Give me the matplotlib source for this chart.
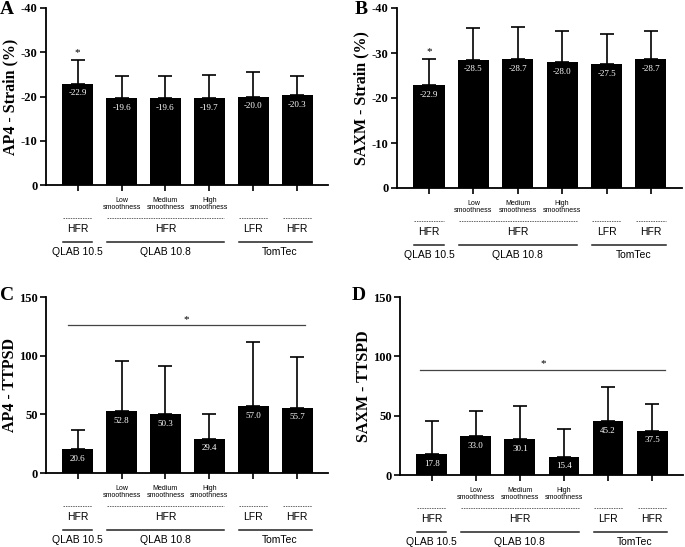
import matplotlib
matplotlib.use('Agg')
import matplotlib.pyplot as plt
import matplotlib.transforms as mtransforms

plt.rcParams['axes.unicode_minus'] = False

# data
groups_top = ['', 'Low\nsmoothness', 'Medium\nsmoothness', 'High\nsmoothness', '', '']
modes = ['HFR', 'HFR', 'LFR', 'HFR']
software = ['QLAB 10.5', 'QLAB 10.8', 'TomTec']

ap4_strain = [-22.9, -19.6, -19.6, -19.7, -20.0, -20.3]
ap4_strain_sd = [5.3, 5.0, 5.1, 5.2, 5.6, 4.4]
saxm_strain = [-22.9, -28.5, -28.7, -28.0, -27.5, -28.7]
saxm_strain_sd = [5.8, 7.0, 7.1, 6.8, 6.7, 6.3]
ap4_ttpsd = [20.6, 52.8, 50.3, 29.4, 57.0, 55.7]
ap4_ttpsd_sd = [15.9, 42.8, 40.5, 20.9, 54.5, 43.3]
saxm_ttspd = [17.8, 33.0, 30.1, 15.4, 45.2, 37.5]
saxm_ttspd_sd = [27.9, 20.6, 27.7, 23.5, 28.6, 22.0]

serif = 'Liberation Serif'
sans = 'Liberation Sans'

fig = plt.figure(figsize=(6.85, 5.47), dpi=100)

def px_axes(l, r, t, b):
    return fig.add_axes([l / 685, (547 - b) / 547, (r - l) / 685, (b - t) / 547])

def panel(ax, vals, sd, ylabel, letter, letter_xy, ylim, yticks, neg, star_bar=None, sig=None):
    x = list(range(len(vals)))
    ax.bar(x, vals, width=0.7, color='black', zorder=2)
    zeros = [0] * len(sd)
    yerr = [sd, zeros] if neg else [zeros, sd]
    ax.errorbar(x, vals, yerr=yerr, fmt='none', ecolor='black', elinewidth=1.2,
                capsize=5.2, capthick=1.2, zorder=1)
    for xi, v in zip(x, vals):
        ax.annotate(f'{v:.1f}', (xi, v), xytext=(0, -7), textcoords='offset points',
                    ha='center', va='center', color='white', fontsize=6.5, family=serif)
    ax.set_xlim(-0.72, 5.7)
    ax.set_ylim(*ylim)
    ax.set_yticks(yticks)
    ax.set_yticklabels([str(t) for t in yticks], fontsize=9, fontweight='bold', family=serif)
    ax.set_xticks(x)
    ax.set_xticklabels([])
    ax.tick_params(axis='both', direction='out', length=4, width=1.2)
    ax.tick_params(axis='y', pad=2)
    for s in ['top', 'right']:
        ax.spines[s].set_visible(False)
    for s in ['left', 'bottom']:
        ax.spines[s].set_linewidth(1.3)
    ax.set_ylabel(ylabel, fontsize=11.5, fontweight='bold', family=serif)
    w = ax.get_position().width * 685
    ax.yaxis.set_label_coords(-28 / w, 0.5)
    fig.text(letter_xy[0] / 685, 1 - letter_xy[1] / 547, letter, fontsize=14,
             fontweight='bold', family=serif, va='center', ha='center')
    if star_bar is not None:
        ax.annotate('*', (star_bar, vals[star_bar] - sd[star_bar] if neg else vals[star_bar] + sd[star_bar]),
                    xytext=(0, 2), textcoords='offset points', ha='center', va='bottom',
                    fontsize=8, family=serif)
    if sig is not None:
        x0, x1, yv = sig
        ax.plot([x0, x1], [yv, yv], color='#444444', lw=0.9)
        ax.annotate('*', ((x0 + x1) / 2, yv), xytext=(0, 1), textcoords='offset points',
                    ha='center', va='bottom', fontsize=8, family=serif)

    # category annotations below the axis
    h = ax.get_position().height * 547
    trans = mtransforms.blended_transform_factory(ax.transData, ax.transAxes)
    def fy(off):
        return -off / h
    for xi, t in enumerate(groups_top):
        if t:
            ax.text(xi, fy(19), t, transform=trans, ha='center', va='center',
                    fontsize=5, family=sans, linespacing=1.0)
    spans = [(0, 0), (1, 3), (4, 4), (5, 5)]
    for (a, b), m in zip(spans, modes):
        ax.plot([a - 0.33, b + 0.33], [fy(33), fy(33)], transform=trans, clip_on=False,
                color='#666666', lw=0.7, ls=(0, (1.5, 1)))
        ax.text((a + b) / 2, fy(44), m, transform=trans, ha='center', va='center',
                fontsize=7.5, family=sans)
    sspans = [(0, 0), (1, 3), (4, 5)]
    for (a, b), s in zip(sspans, software):
        ax.plot([a - 0.33, b + 0.33], [fy(57), fy(57)], transform=trans, clip_on=False,
                color='#222222', lw=1.1)
        xc = (a + b) / 2 if s != 'TomTec' else 4.6
        ax.text(xc, fy(67), s, transform=trans, ha='center', va='center',
                fontsize=7.5, family=sans)

axA = px_axes(46, 328, 8, 185)
panel(axA, ap4_strain, ap4_strain_sd, 'AP4 - Strain (%)', 'A', (7, 9), (0, -40),
      [0, -10, -20, -30, -40], True, star_bar=0)

axB = px_axes(397, 682, 8, 188)
panel(axB, saxm_strain, saxm_strain_sd, 'SAXM - Strain (%)', 'B', (361, 9), (0, -40),
      [0, -10, -20, -30, -40], True, star_bar=0)

axC = px_axes(46, 328, 297, 473)
panel(axC, ap4_ttpsd, ap4_ttpsd_sd, 'AP4 - TTPSD', 'C', (7, 295), (0, 150),
      [0, 50, 100, 150], False, sig=(-0.22, 5.18, 126))

axD = px_axes(400, 683, 297, 475)
panel(axD, saxm_ttspd, saxm_ttspd_sd, 'SAXM - TTSPD', 'D', (359, 296), (0, 150),
      [0, 50, 100, 150], False, sig=(-0.26, 5.3, 88.6))

fig.savefig('out.png', dpi=100)
